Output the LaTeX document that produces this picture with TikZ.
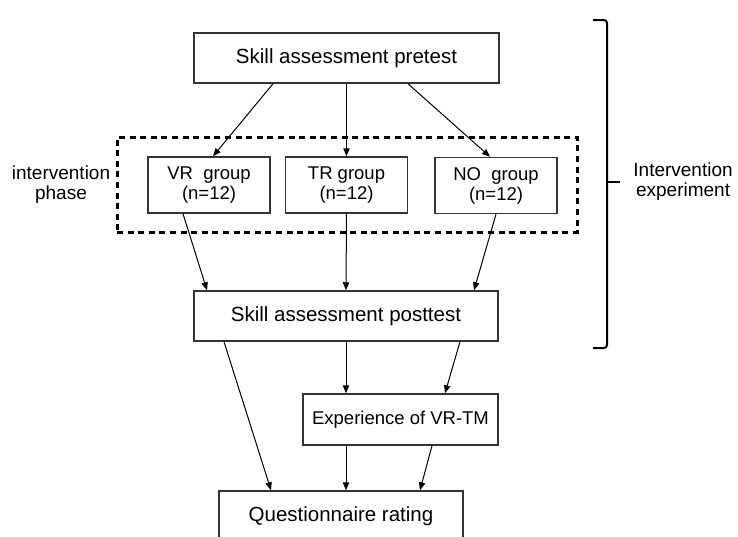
\documentclass[tikz,border=0pt]{standalone}
\usepackage{fontspec}
\setmainfont{Liberation Sans}
\usetikzlibrary{arrows.meta}

\begin{document}
\begin{tikzpicture}[
  x=0.5pt, y=-0.5pt,
  box/.style={draw=black!80, line width=0.75pt, fill=white, align=center, inner sep=2pt},
  testbox/.style={box, minimum width=152.5pt, minimum height=25pt,
    font=\fontsize{10.25}{12}\selectfont},
  groupbox/.style={box, minimum width=61pt, minimum height=28pt,
    font=\fontsize{9.25}{10}\selectfont},
  phasebox/.style={draw, line width=1.5pt, dash pattern=on 3pt off 2.3pt,
    minimum width=230pt, minimum height=47.5pt, inner sep=0pt},
  lbl/.style={align=center, font=\fontsize{9.5}{10}\selectfont},
  bracket/.style={line width=1pt, rounded corners=1.5pt},
  arr/.style={-{Triangle[length=4pt, width=3.2pt]}, line width=0.5pt},
]
  \useasboundingbox (0,0) rectangle (738,536);
  \clip (0,0) rectangle (738,536);

  % Intervention phase frame
  \node[phasebox] (phase) at (347,184.5) {};

  % Pretest and groups
  \node[testbox] (pre) at (346.5,58) {Skill assessment pretest};
  \node[groupbox] (vr) at (209,185) {VR\ \ group\\(n=12)};
  \node[groupbox] (tr) at (346.5,185) {TR group\\(n=12)};
  \node[groupbox] (no) at (496,185.5) {NO\ \ group\\(n=12)};

  % Posttest and follow-up
  \node[testbox, minimum width=152pt] (post) at (346,316) {Skill assessment posttest};
  \node[box, minimum width=97.5pt, minimum height=25.5pt,
    font=\fontsize{9.25}{11}\selectfont] (exp) at (400.5,419.5) {Experience of VR-TM};
  \node[testbox, minimum width=122pt] (quest) at (341,516) {Questionnaire rating};

  % Pretest -> groups
  \draw[arr] ([xshift=-36.75pt]pre.south) -- ([xshift=2pt]vr.north);
  \draw[arr] (pre.south) -- (tr.north);
  \draw[arr] ([xshift=30.75pt]pre.south) -- ([xshift=-3pt]no.north);

  % Groups -> posttest
  \draw[arr] ([xshift=-13pt]vr.south) -- ([xshift=-69.5pt]post.north);
  \draw[arr] (tr.south) -- (post.north);
  \draw[arr] (no.south) -- ([xshift=64pt]post.north);

  % Posttest -> experience / questionnaire
  \draw[arr] (post.south) -- ([xshift=-27.25pt]exp.north);
  \draw[arr] ([xshift=57pt]post.south) -- ([xshift=22.25pt]exp.north);
  \draw[arr] ([xshift=-61pt]post.south) -- ([xshift=-35pt]quest.north);
  \draw[arr] ([xshift=-27.25pt]exp.south) -- ([xshift=2.5pt]quest.north);
  \draw[arr] ([xshift=15.75pt]exp.south) -- ([xshift=39.5pt]quest.north);

  % Side labels
  \node[lbl] (iphase) at (61,185) {intervention\\phase};
  \draw[bracket] (593,20) -- (607,20) -- (607,348) -- (593,348);
  \coordinate (tip) at (620,182);
  \draw[line width=1pt] (607,182) -- (tip);
  \node[lbl, anchor=west, inner sep=0pt] (iexp) at ([xshift=6.5pt]tip) {Intervention\\experiment};
\end{tikzpicture}
\end{document}
